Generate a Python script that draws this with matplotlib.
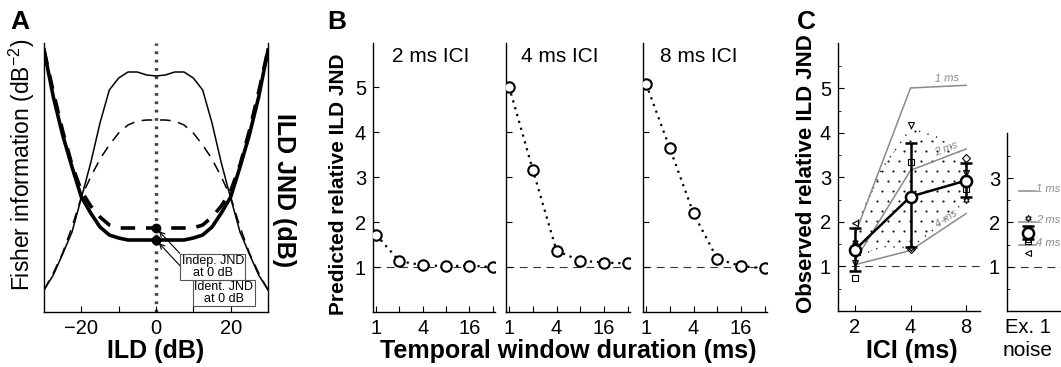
import numpy as np
import matplotlib
matplotlib.use('Agg')
import matplotlib.pyplot as plt
from matplotlib.ticker import NullLocator, FixedLocator

plt.rcParams['font.family'] = ['Liberation Sans', 'DejaVu Sans']
plt.rcParams['mathtext.default'] = 'regular'
plt.rcParams['axes.linewidth'] = 1.0

# ---------------- data ----------------
# Panel A (arbitrary units)
ild = [-30, -27.5, -25, -22.5, -20, -17.5, -15, -12.5, -10, -7.5, -5, -2.5, 0,
       2.5, 5, 7.5, 10, 12.5, 15, 17.5, 20, 22.5, 25, 27.5, 30]
fisher_solid = [22, 37, 58, 80, 114, 149, 189, 222, 234, 240, 240, 237, 236,
                237, 240, 240, 234, 222, 189, 149, 114, 80, 58, 37, 22]
fisher_dashed = [22, 39, 59, 85, 115, 135, 153, 167, 179, 187, 191, 192, 192,
                 192, 191, 187, 179, 167, 153, 135, 115, 85, 59, 39, 22]
jnd_solid = [262, 215, 177, 145, 115, 99, 85, 77, 74, 72, 72, 72, 72,
             72, 72, 72, 74, 77, 85, 99, 115, 145, 177, 215, 262]
jnd_dashed = [262, 220, 181, 147, 121, 106, 95, 87, 84, 84, 84, 84, 84,
              84, 84, 84, 84, 87, 95, 106, 121, 147, 181, 220, 262]
jnd0_indep = 84
jnd0_ident = 72

# Panel B
window_ms = [1, 2, 4, 8, 16, 32]
pred_2ms = [1.72, 1.13, 1.04, 1.02, 1.03, 1.00]
pred_4ms = [5.01, 3.16, 1.36, 1.14, 1.10, 1.08]
pred_8ms = [5.07, 3.64, 2.19, 1.18, 1.02, 0.97]
ici_titles = ['2 ms ICI', '4 ms ICI', '8 ms ICI']

# Panel C
ici = [2, 4, 8]
obs_mean = [1.375, 2.57, 2.93]
obs_lo = [0.895, 1.43, 2.57]
obs_hi = [1.86, 3.78, 3.32]
subj_markers = ['<', 'v', 's', '^', 'D', (6, 1, 0)]
subj_obs = [[1.98, 2.55, 2.95],
            [1.08, 4.18, 3.10],
            [0.74, 3.34, 2.75],
            [1.50, 1.43, 2.85],
            [1.45, 1.40, 3.44],
            [1.55, 1.42, 2.50]]
region_x = [2, 2.8, 4, 5.6, 8]
region_hi = [1.85, 3.2, 4.1, 3.9, 3.45]
region_lo = [1.2, 1.45, 1.42, 1.9, 2.5]
model_labels = ['1 ms', '2 ms', '4 ms']

# Ex. 1 noise
ex1_mean = 1.77
ex1_lo = 1.62
ex1_hi = 1.92
ex1_subj = [1.32, 1.85, 1.58, 1.62, 1.80, 2.10]
ex1_model = [2.70, 2.00, 1.48]

# ---------------- figure ----------------
W, H = 1061, 367
fig = plt.figure(figsize=(W / 100, H / 100), dpi=100)


def add_ax(l, t, r, b):
    return fig.add_axes([l / W, 1 - b / H, (r - l) / W, (b - t) / H])


def ftext(x, y, s, **kw):
    return fig.text(x / W, 1 - y / H, s, **kw)


TICK = 14.5
GRAY = '#8a8a8a'
LABFS = 8

# ---------- Panel A ----------
axA = add_ax(44, 43, 268, 312)
axA.plot(ild, fisher_solid, color='k', lw=1.1)
axA.plot(ild, fisher_dashed, color='k', lw=1.1, ls=(0, (7, 5)))
axA.plot(ild, jnd_solid, color='k', lw=2.6)
axA.plot(ild, jnd_dashed, color='k', lw=2.6, ls=(0, (4, 3)))
axA.axvline(0, color='#444444', lw=2.5, ls=(0, (0.8, 1.6)), zorder=1)
axA.plot([0, 0], [jnd0_indep, jnd0_ident], 'o', color='k', ms=6, zorder=5)
axA.set_xlim(-30, 30)
axA.set_ylim(0, 269)
axA.set_yticks([])
axA.set_xticks([-20, -10, 0, 10, 20])
axA.set_xticklabels(['\u221220', '', '0', '', '20'])
axA.tick_params(axis='x', direction='in', length=4, labelsize=TICK, pad=5)
axA.spines['top'].set_visible(False)
box = dict(boxstyle='square,pad=0.12', fc='white', ec='#555555', lw=0.8)
axA.annotate('Ident. JND\nat 0 dB', xy=(0, jnd0_ident), xytext=(18.2, 19),
             ha='center', va='center', fontsize=9, linespacing=0.95, bbox=box,
             arrowprops=dict(arrowstyle='->', lw=0.8, color='k', shrinkA=0, shrinkB=3,
                             relpos=(0, 1)), zorder=6)
axA.annotate('Indep. JND\nat 0 dB', xy=(0, jnd0_indep), xytext=(15.2, 45),
             ha='center', va='center', fontsize=9, linespacing=0.95, bbox=box,
             arrowprops=dict(arrowstyle='->', lw=0.8, color='k', shrinkA=0, shrinkB=3,
                             relpos=(0, 1)), zorder=7)

ftext(10, 22, 'A', fontsize=19, fontweight='bold', ha='left', va='center')
ftext(22, 165, 'Fisher information (dB$^{-2}$)', fontsize=16.5, rotation=90,
      ha='center', va='center')
ftext(284, 190, 'ILD JND (dB)', fontsize=18, fontweight='bold', rotation=270,
      ha='center', va='center')
ftext(156, 351, 'ILD (dB)', fontsize=18, fontweight='bold', ha='center', va='center')

# ---------- Panel B ----------
b_boxes = [(373, 495), (506, 630), (643, 767)]
b_title_x = [431, 560, 699]
for i, (series, (l, r)) in enumerate(zip([pred_2ms, pred_4ms, pred_8ms], b_boxes)):
    ax = add_ax(l, 43, r, 312)
    ax.set_xscale('log', base=2)
    ax.axhline(1, color='#333333', lw=0.8, ls=(0, (7, 5)), zorder=1)
    ax.plot(window_ms, series, color='k', lw=1.6, ls=(0, (1.0, 2.2)), zorder=2)
    ax.plot(window_ms, series, 'o', ms=7.5, mfc='white', mec='k', mew=1.5, zorder=3)
    ax.set_xlim(0.914, 34.1)
    ax.set_ylim(0, 5.98)
    ax.xaxis.set_major_locator(FixedLocator(window_ms))
    ax.xaxis.set_minor_locator(NullLocator())
    ax.set_xticklabels(['1', '', '4', '', '16', ''])
    ax.set_yticks([1, 2, 3, 4, 5])
    if i > 0:
        ax.set_yticklabels([])
    ax.tick_params(direction='in', length=4, labelsize=TICK, pad=5)
    for s in ['top', 'right']:
        ax.spines[s].set_visible(False)
    ftext(b_title_x[i], 57, ici_titles[i], fontsize=15, ha='center', va='center')

ftext(327, 22, 'B', fontsize=19, fontweight='bold', ha='left', va='center')
ftext(338, 184, 'Predicted relative ILD JND', fontsize=15, fontweight='bold',
      rotation=90, ha='center', va='center')
ftext(568, 351, 'Temporal window duration (ms)', fontsize=18, fontweight='bold',
      ha='center', va='center')

# ---------- Panel C ----------
axC = add_ax(838, 43, 980, 311)
axC.set_xscale('log', base=2)
axC.set_xlim(1.619, 9.51)
axC.set_ylim(0, 6.02)
axC.axhline(1, color='#333333', lw=0.8, ls=(0, (7, 5)), zorder=1)
region = axC.fill_between(region_x, region_lo, region_hi, facecolor='none',
                          edgecolor='none', lw=0, zorder=1)
# stipple texture for the spread region (sparse staggered dots, clipped to region)
step_x, step_y = 11.0 / 142, 10.0 / 268
gx, gy = [], []
for r_i, yy in enumerate(np.arange(0.0, 1.0, step_y)):
    off = 0.5 * step_x if r_i % 2 else 0.0
    for xx in np.arange(off, 1.0, step_x):
        gx.append(xx)
        gy.append(yy)
dots = axC.scatter(gx, gy, s=2.5, color='#1a1a1a', lw=0, transform=axC.transAxes, zorder=1)
dots.set_clip_path(region.get_paths()[0], axC.transData)
outline_x = list(region_x) + list(region_x[::-1]) + [region_x[0]]
outline_y = list(region_hi) + list(region_lo[::-1]) + [region_hi[0]]
axC.plot(outline_x, outline_y, color='#222222', lw=1.1, ls=(0, (0.8, 5)), zorder=1)
model_series = [[pred_2ms[k], pred_4ms[k], pred_8ms[k]] for k in range(3)]
fig.canvas.draw()
for lab, ys in zip(model_labels, model_series):
    axC.plot(ici, ys, color=GRAY, lw=1.1, zorder=2)
    xl = 6.27
    yl = np.interp(np.log2(xl), np.log2(ici[1:]), ys[1:])
    p1 = axC.transData.transform((ici[1], ys[1]))
    p2 = axC.transData.transform((ici[2], ys[2]))
    ang = np.degrees(np.arctan2(p2[1] - p1[1], p2[0] - p1[0]))
    axC.annotate(lab, xy=(xl, yl), xytext=(0, 5.5), textcoords='offset points',
                 rotation=ang, rotation_mode='anchor', ha='center', va='center',
                 fontsize=LABFS, style='italic', color=GRAY)
for m, ys in zip(subj_markers, subj_obs):
    axC.plot(ici, ys, ls='none', marker=m, ms=4.5, mfc='white', mec='k', mew=0.8, zorder=3)
axC.errorbar(ici, obs_mean,
             yerr=[np.subtract(obs_mean, obs_lo), np.subtract(obs_hi, obs_mean)],
             color='k', lw=1.8, capsize=4, capthick=1.8, marker='o', ms=8,
             mfc='white', mec='k', mew=1.8, zorder=4)
axC.xaxis.set_major_locator(FixedLocator(ici))
axC.xaxis.set_minor_locator(NullLocator())
axC.set_xticklabels(['2', '4', '8'])
axC.set_yticks([1, 2, 3, 4, 5])
axC.yaxis.set_minor_locator(FixedLocator([0.5, 1.5, 2.5, 3.5, 4.5, 5.5]))
axC.tick_params(direction='in', length=4, labelsize=TICK, pad=5)
axC.tick_params(which='minor', direction='in', length=2.5)
for s in ['top', 'right']:
    axC.spines[s].set_visible(False)

ftext(797, 22, 'C', fontsize=19, fontweight='bold', ha='left', va='center')
ftext(807, 174, 'Observed relative ILD JND', fontsize=16, fontweight='bold',
      rotation=90, ha='center', va='center')
ftext(912, 351, 'ICI (ms)', fontsize=18, fontweight='bold', ha='center', va='center')

# ---------- Ex. 1 noise ----------
axE = add_ax(1007, 133, 1061, 311)
axE.set_xlim(-1, 1.571)
axE.set_ylim(0, 4.02)
axE.axhline(1, color='#333333', lw=0.8, ls=(0, (7, 5)), zorder=1)
for lab, yv in zip(model_labels, ex1_model):
    axE.plot([-0.43, 0.38], [yv, yv], color=GRAY, lw=1.1)
    axE.text(0.40, yv + 0.05, lab, fontsize=LABFS, style='italic', color=GRAY,
             ha='left', va='center')
for m, yv in zip(subj_markers, ex1_subj):
    axE.plot([0], [yv], ls='none', marker=m, ms=4.5, mfc='white', mec='k', mew=0.8, zorder=3)
axE.errorbar([0], [ex1_mean], yerr=[[ex1_mean - ex1_lo], [ex1_hi - ex1_mean]],
             color='k', lw=1.8, capsize=4, capthick=1.8, marker='o', ms=8,
             mfc='white', mec='k', mew=1.8, zorder=4)
axE.set_xticks([0])
axE.set_xticklabels(['Ex. 1'])
axE.set_yticks([1, 2, 3])
axE.yaxis.set_minor_locator(FixedLocator([0.5, 1.5, 2.5, 3.5]))
axE.tick_params(direction='in', length=4, labelsize=TICK, pad=5)
axE.tick_params(axis='x', length=0)
axE.tick_params(which='minor', direction='in', length=2.5)
for s in ['top', 'right']:
    axE.spines[s].set_visible(False)
ftext(1028, 351, 'noise', fontsize=15, ha='center', va='center')

fig.savefig('out.png', dpi=100)
